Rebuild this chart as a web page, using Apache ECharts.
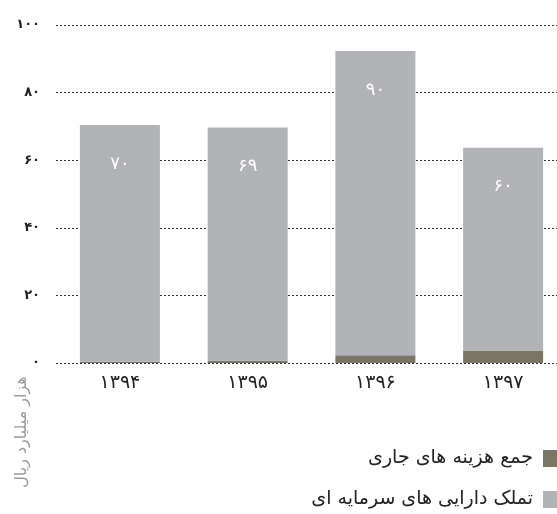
<!DOCTYPE html>
<html>
<head>
<meta charset="utf-8">
<script src="https://cdn.jsdelivr.net/npm/echarts@6/dist/echarts.min.js"></script>
<style>
  html, body { margin: 0; padding: 0; background: #fff; }
  #chart { width: 557px; height: 514px; }
</style>
</head>
<body>
<div id="chart"></div>
<script>
const years = [1394, 1395, 1396, 1397];
const currentCost = [0.4, 0.7, 2.3, 3.7];
const capitalAssets = [70, 69, 90, 60];
const seriesNames = ['جمع هزینه های جاری', 'تملک دارایی های سرمایه ای'];
const unitName = 'هزار میلیارد ریال';

const FONT = '"DejaVu Sans", sans-serif';
const toFa = n => String(n).replace(/\d/g, d => '۰۱۲۳۴۵۶۷۸۹'[d]);

const myChart = echarts.init(document.getElementById('chart'));

const option = {
  animation: false,
  textStyle: { fontFamily: FONT },
  grid: { left: 56, width: 511, top: 25, bottom: 151, outerBoundsMode: 'none', containLabel: false },
  legend: {
    orient: 'vertical',
    right: -3,
    top: 449,
    padding: 0,
    align: 'right',
    icon: 'rect',
    itemWidth: 17,
    itemHeight: 17,
    itemGap: 22,
    textStyle: { fontSize: 19, color: '#222', fontFamily: FONT, padding: [0, 5, 0, 0] },
    data: seriesNames
  },
  graphic: [{
    type: 'text',
    x: 22,
    y: 432,
    rotation: Math.PI / 2,
    style: {
      text: unitName,
      fill: '#9a9a9a',
      font: '16px ' + FONT,
      align: 'center',
      verticalAlign: 'middle'
    }
  }],
  xAxis: {
    type: 'category',
    data: years,
    axisLine: { show: false },
    axisTick: { show: false },
    axisLabel: {
      margin: 11,
      fontSize: 19,
      color: '#222',
      formatter: v => toFa(v)
    }
  },
  yAxis: {
    type: 'value',
    min: 0,
    max: 100,
    interval: 20,
    axisLine: { show: false },
    axisTick: { show: false },
    axisLabel: {
      margin: 16,
      fontSize: 13,
      fontWeight: 'bold',
      color: '#222',
      formatter: v => toFa(v)
    },
    splitLine: {
      lineStyle: { color: '#333', type: [2, 2], width: 1 }
    }
  },
  series: [
    {
      name: seriesNames[0],
      type: 'bar',
      stack: 'total',
      barWidth: 80,
      itemStyle: { color: '#7a7666' },
      data: currentCost
    },
    {
      name: seriesNames[1],
      type: 'bar',
      stack: 'total',
      barWidth: 80,
      itemStyle: { color: '#b1b3b6' },
      label: {
        show: true,
        position: 'insideTop',
        distance: 30,
        color: '#fff',
        fontSize: 18,
        formatter: p => toFa(p.value)
      },
      data: capitalAssets
    }
  ]
};

myChart.setOption(option);
</script>
</body>
</html>
